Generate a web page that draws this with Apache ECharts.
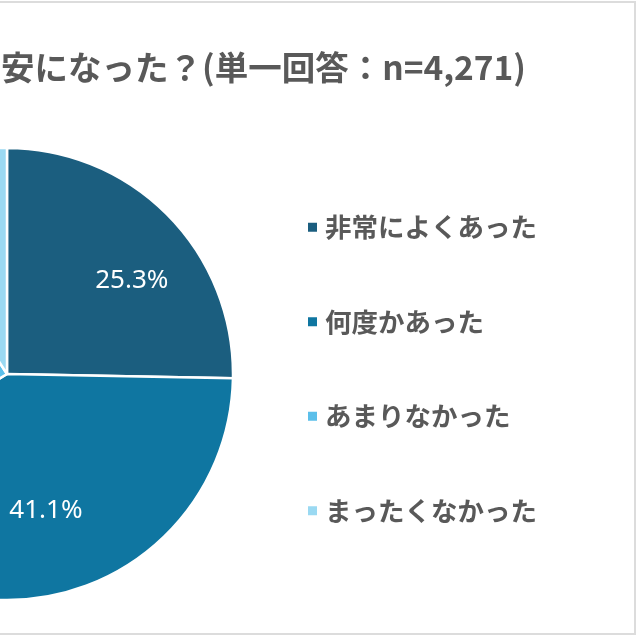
<!DOCTYPE html>
<html><head><meta charset="utf-8">
<script src="https://cdn.jsdelivr.net/npm/echarts@6/dist/echarts.min.js"></script>
<style>html,body{margin:0;padding:0;background:#fff}#c{width:640px;height:640px}</style>
</head><body><div id="c"></div>
<script>
const titleText = '安になった？(単一回答：n=4,271)';
const categories = ['非常によくあった', '何度かあった', 'あまりなかった', 'まったくなかった'];
const values = [25.3, 41.1, 24.5, 9.1];
const colors = ['#1b5e7f', '#0f76a1', '#5bbfea', '#9ad9f2'];
const labelOffsets = [[42, -12], [9, 25], null, null];

const chart = echarts.init(document.getElementById('c'));
chart.setOption({
  animation: false,
  backgroundColor: '#fff',
  title: {
    text: titleText, left: 1, top: 51, padding: 0,
    textStyle: { fontFamily: 'Noto Sans CJK JP', fontSize: 33.5, fontWeight: 'bold', color: '#595959' }
  },
  legend: {
    orient: 'vertical', left: 301, top: 209,
    icon: 'rect', itemWidth: 11, itemHeight: 11, itemGap: 68,
    data: categories,
    textStyle: { fontFamily: 'Noto Sans CJK JP', fontSize: 26.5, fontWeight: 'bold', color: '#595959', lineHeight: 26, padding: [0, 0, 0, 2] }
  },
  graphic: [{
    type: 'rect', shape: { x: -10, y: 2, width: 645, height: 632 },
    style: { fill: 'none', stroke: '#dcdcdc', lineWidth: 2 }, silent: true, z: 100
  }],
  series: [{
    type: 'pie', center: [7, 374], radius: 226, startAngle: 90, clockwise: true,
    itemStyle: { borderColor: '#fff', borderWidth: 2.5 },
    labelLine: { show: false },
    data: categories.map((name, i) => ({
      name, value: values[i], itemStyle: { color: colors[i] },
      label: labelOffsets[i] ? {
        show: true, position: 'inside', offset: labelOffsets[i],
        formatter: values[i].toFixed(1) + '%',
        fontFamily: 'Noto Sans', fontSize: 26, fontWeight: 'normal', color: '#fff',
        textBorderWidth: 0
      } : { show: false }
    }))
  }]
});
</script></body></html>
